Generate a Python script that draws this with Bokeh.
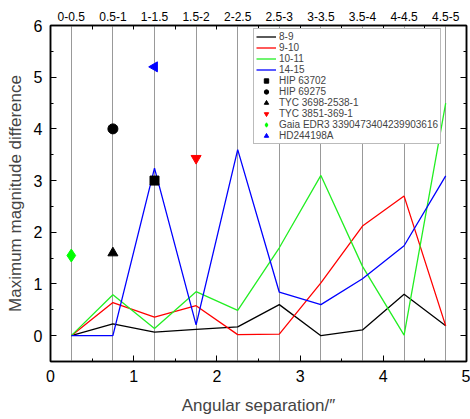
import numpy as np
from bokeh.plotting import figure
from bokeh.models import (LinearAxis, SingleIntervalTicker, FixedTicker, Legend,
                          LegendItem, Range1d)
from bokeh.embed import file_html
from bokeh.resources import INLINE

bin_centers = [0.25, 0.75, 1.25, 1.75, 2.25, 2.75, 3.25, 3.75, 4.25, 4.75]
bin_labels = ["0-0.5", "0.5-1", "1-1.5", "1.5-2", "2-2.5", "2.5-3",
              "3-3.5", "3.5-4", "4-4.5", "4.5-5"]

series_names = ["8-9", "9-10", "10-11", "14-15"]
mag_8_9 = [0.0, 0.23, 0.07, 0.12, 0.17, 0.6, 0.0, 0.11, 0.8, 0.19]
mag_9_10 = [0.0, 0.64, 0.36, 0.58, 0.02, 0.03, 1.02, 2.12, 2.7, 0.19]
mag_10_11 = [0.0, 0.79, 0.14, 0.85, 0.49, 1.7, 3.1, 1.34, 0.01, 4.5]
mag_14_15 = [0.0, 0.0, 3.24, 0.21, 3.6, 0.84, 0.6, 1.1, 1.74, 3.09]
series_colors = ["#000000", "#ff0000", "#22ee22", "#0000ff"]

star_names = ["HIP 63702", "HIP 69275", "TYC 3698-2538-1", "TYC 3851-369-1",
              "Gaia EDR3 3390473404239903616", "HD244198A"]
star_x = [1.25, 0.75, 0.75, 1.75, 0.25, 1.25]
star_y = [3.0, 4.0, 1.6, 3.43, 1.55, 5.2]
star_markers = ["square", "circle", "triangle", "inverted_triangle", "diamond", "triangle"]
star_colors = ["#000000", "#000000", "#000000", "#ff0000", "#00ff00", "#0000ff"]
star_angles = [0, 0, 0, 0, 0, np.pi / 2]
star_sizes = [9, 10, 10, 10, 13, 10]

FONT = "Liberation Sans"

p = figure(width=470, height=419, output_backend="svg", toolbar_location=None,
           x_range=Range1d(0, 5), y_range=Range1d(-0.5, 6),
           min_border=0,
           min_border_left=50, min_border_right=4, min_border_top=25,
           min_border_bottom=58, background_fill_color="white")

p.outline_line_color = "black"
p.outline_line_width = 1.5
p.ygrid.visible = False
p.xgrid.ticker = FixedTicker(ticks=bin_centers)
p.xgrid.grid_line_color = "#999999"
p.xgrid.grid_line_width = 1

def style_axis(ax):
    ax.axis_line_color = "black"
    ax.axis_line_width = 1.5
    ax.major_tick_in = 6
    ax.major_tick_out = 0
    ax.minor_tick_in = 3
    ax.minor_tick_out = 0
    ax.major_tick_line_color = "black"
    ax.minor_tick_line_color = "black"
    ax.major_label_text_font = FONT
    ax.axis_label_text_font = FONT
    ax.axis_label_text_font_style = "normal"
    ax.major_label_text_color = "black"

xa = p.xaxis[0]
xa.ticker = SingleIntervalTicker(interval=1, num_minor_ticks=2)
style_axis(xa)
xa.major_label_text_font_size = "16px"
xa.axis_label = "Angular separation/\u2033"
xa.axis_label_text_font_size = "17px"
xa.major_label_standoff = 8
xa.axis_label_standoff = 11

ya = p.yaxis[0]
ya.ticker = SingleIntervalTicker(interval=1, num_minor_ticks=2)
style_axis(ya)
ya.major_label_text_font_size = "16px"
ya.axis_label = "Maximum magnitude difference"
ya.axis_label_text_font_size = "17px"
ya.major_label_standoff = 8
ya.axis_label_standoff = 6

top = LinearAxis(ticker=FixedTicker(ticks=bin_centers,
                                    minor_ticks=[i * 0.5 for i in range(11)]))
style_axis(top)
top.major_tick_in = 0
top.minor_tick_in = 4
top.major_label_overrides = {c: l for c, l in zip(bin_centers, bin_labels)}
top.major_label_text_font_size = "12px"
top.major_label_standoff = 5
p.add_layout(top, "above")

right = LinearAxis(ticker=SingleIntervalTicker(interval=1, num_minor_ticks=2),
                   major_label_overrides={i: "" for i in range(-1, 8)})
style_axis(right)
right.major_label_text_font_size = "0px"
right.major_label_standoff = 0
right.axis_label_standoff = 0
p.add_layout(right, "right")

items = []
for name, vals, col in zip(series_names, [mag_8_9, mag_9_10, mag_10_11, mag_14_15], series_colors):
    r = p.line(bin_centers, vals, line_color=col, line_width=1.3)
    items.append(LegendItem(label=name, renderers=[r]))

for i, name in enumerate(star_names):
    r = p.scatter([star_x[i]], [star_y[i]], marker=star_markers[i], size=star_sizes[i],
                  color=star_colors[i], angle=star_angles[i])
    items.append(LegendItem(label=name, renderers=[r]))

legend = Legend(items=items, location=(203, 217))
legend.label_text_font = FONT
legend.label_text_font_size = "10px"
legend.label_height = 11
legend.glyph_height = 11
legend.glyph_width = 20
legend.spacing = 0
legend.padding = 2
legend.margin = 0
legend.label_standoff = 3
legend.border_line_color = "#777777"
legend.border_line_width = 1
legend.background_fill_alpha = 1
p.add_layout(legend, "center")

open("out.html", "w").write(file_html(p, INLINE))
